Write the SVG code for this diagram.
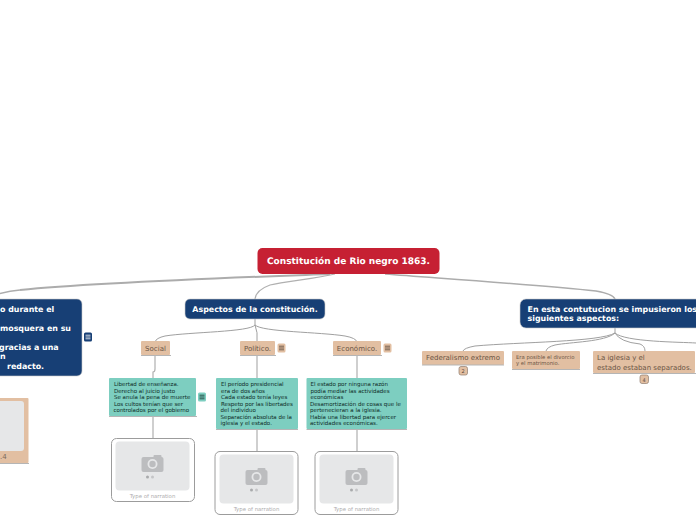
<svg xmlns="http://www.w3.org/2000/svg" width="696" height="520" viewBox="0 0 696 520">
<style>
text{font-family:"DejaVu Sans",sans-serif;text-rendering:geometricPrecision}
.blue{fill:#173f75;stroke:#c9c9c9;stroke-width:.6}
.wt{fill:#fff;font-weight:700;font-size:7.9px}
.tan{fill:#e2bfa2}
.tt{fill:#6b5545;font-size:7px}
.teal{fill:#7dcec0}
.bt{fill:#0e2a25;font-size:5.5px}
.ul{stroke:#b5b5b5;stroke-width:1;fill:none}
.c1{fill:none;stroke:#acacac;stroke-width:2}
.c1b{fill:none;stroke:#acacac;stroke-width:1.500}
.c2{fill:none;stroke:#a0a0a0;stroke-width:1}
.c3{fill:none;stroke:#b0b0b0;stroke-width:1.200}
.card{fill:#fff;stroke:#9c9c9c;stroke-width:1}
.ph{fill:#e6e7e8}
.cam{fill:#bcbdbf}
.cap{fill:#adadad;font-size:5.4px;text-anchor:middle}
.badge{fill:#e2bfa2;stroke:#8f7d6e;stroke-width:.7}
</style>
<defs>
<g id="camera"><rect x="-11" y="-7" width="22" height="15" rx="2" class="cam"/><rect x="1" y="-9" width="8" height="3" rx="1" class="cam"/><circle r="5" fill="#e6e7e8"/><circle r="3.200" class="cam"/><circle cx="-5" cy="13" r="1.500" fill="#a9aaac"/><circle cx="0" cy="13" r="1.500" fill="#c4c5c7"/></g>
<g id="menu"><rect x="-4" y="-4.500" width="8" height="9" rx="1.500" stroke="none"/><path d="M-2.500-1.800H2.500M-2.500 0H2.500M-2.500 1.800H2.500" fill="none" stroke-width=".8"/></g>
</defs>
<g id="connectors">
<path class="c1" d="M330 274C250 277 100 282 20 290"/>
<path class="c1b" d="M20 290Q8 291-5 295"/>
<path class="c1b" d="M385 274C450 279 540 285 596 291Q613 294 615 299"/>
<path class="c3" d="M335 274C315 279 285 281 270 285Q256 290 255 299"/>
<path class="c2" d="M255 319V325M255 325C250 332 190 332 165 336Q156 338 155 342M255 325Q258 332 257 342M255 325C262 332 320 332 345 336Q356 338 357 342"/>
<path class="c3" d="M155 356V369Q155 372 153 372V378M153 417V439M257 356V378M257 429V452M357 356V378M357 429V452"/>
<path class="c2" d="M615 328V333M615 333C600 342 520 342 475 346Q464 348 463 351M615 333C605 342 570 342 555 345Q547 347 546 351M615 333Q620 342 640 344Q645 346 645 351M615 333C625 342 680 342 696 343"/>
</g>
<g id="root"><rect x="257.500" y="248" width="182" height="26" rx="5" fill="#c62033"/><text x="348.500" y="264" text-anchor="middle" fill="#fff" font-weight="700" font-size="9px">Constitución de Rio negro 1863.</text></g>
<g id="left-topic"><rect x="-20" y="299" width="102" height="77" rx="5" class="blue"/><text class="wt"><tspan x="0" y="312">o durante el</tspan><tspan x="0" y="331">mosquera en su</tspan><tspan x="-1" y="349.500">gracias a una</tspan><tspan x="0" y="358.500">n</tspan><tspan x="7" y="368.500">redacto.</tspan></text><use href="#menu" x="88" y="337" fill="#173f75" stroke="#fff"/></g>
<g id="left-card"><rect x="-20" y="398" width="48.500" height="65" rx="1" class="tan"/><rect x="-20" y="401" width="44" height="50" rx="3" fill="#e6e7e8"/><path class="ul" d="M0 463.500H29"/><text x="0" y="459" font-size="7px" fill="#7a6a5c">.4</text></g>
<g id="aspectos"><rect x="185" y="299" width="140" height="20" rx="5" class="blue"/><text x="255" y="312" class="wt" text-anchor="middle">Aspectos de la constitución.</text></g>
<g id="social"><rect x="141" y="341" width="29" height="14" rx="1" class="tan"/><path class="ul" d="M141 355.500H171"/><text x="155.500" y="351" class="tt" text-anchor="middle">Social</text></g>
<g id="politico"><rect x="240" y="341" width="35" height="14" rx="1" class="tan"/><path class="ul" d="M240 355.500H276"/><text x="257.500" y="351" class="tt" text-anchor="middle">Político.</text><use href="#menu" x="281.500" y="348" fill="#e2bfa2" stroke="#5a4a3e"/></g>
<g id="economico"><rect x="333" y="341" width="48" height="14" rx="1" class="tan"/><path class="ul" d="M333 355.500H382"/><text x="357" y="351" class="tt" text-anchor="middle">Económico.</text><use href="#menu" x="387.500" y="348" fill="#e2bfa2" stroke="#5a4a3e"/></g>
<g id="social-text"><rect x="109" y="378" width="87" height="38" rx="1" class="teal"/><path class="ul" d="M109 416.500H197"/><text class="bt"><tspan x="114" y="386">Libertad de enseñanza.</tspan><tspan x="114" y="392.500">Derecho al juicio justo</tspan><tspan x="114" y="399">Se anula la pena de muerte</tspan><tspan x="114" y="405.500">Los cultos tenían que ser</tspan><tspan x="113.500" y="412">controlados por el gobierno</tspan></text><use href="#menu" x="202" y="397" fill="#7dcec0" stroke="#17352f"/></g>
<g id="politico-text"><rect x="216" y="378" width="82" height="51" rx="1" class="teal"/><path class="ul" d="M216 429.500H298"/><text class="bt"><tspan x="221" y="386">El período presidencial</tspan><tspan x="221" y="392.500">era de dos años</tspan><tspan x="221" y="399">Cada estado tenía leyes</tspan><tspan x="221" y="405.500">Respeto por las libertades</tspan><tspan x="220.500" y="412">del individuo</tspan><tspan x="220.500" y="418.500">Separación absoluta de la</tspan><tspan x="220.500" y="425">iglesia y el estado.</tspan></text></g>
<g id="economico-text"><rect x="306.500" y="378" width="100.500" height="51" rx="1" class="teal"/><path class="ul" d="M306.500 429.500H407"/><text class="bt"><tspan x="310.500" y="386">El estado por ninguna razón</tspan><tspan x="310.500" y="392.500">podía mediar las actividades</tspan><tspan x="310.500" y="399">económicas</tspan><tspan x="310" y="405.500">Desamortización de cosas que le</tspan><tspan x="310" y="412">pertenecieran a la iglesia.</tspan><tspan x="310" y="418.500">Había una libertad para ejercer</tspan><tspan x="310" y="425">actividades económicas.</tspan></text></g>
<g id="card-social"><rect x="111.500" y="438.500" width="83" height="63" rx="5" class="card"/><rect x="115.500" y="441.500" width="74" height="49" rx="4" class="ph"/><use href="#camera" x="152.500" y="464"/><text x="152.500" y="498" class="cap">Type of narration</text></g>
<g id="card-politico"><rect x="215" y="451.500" width="83" height="63" rx="5" class="card"/><rect x="219.500" y="454.500" width="74" height="49" rx="4" class="ph"/><use href="#camera" x="256.500" y="477"/><text x="256.500" y="511" class="cap">Type of narration</text></g>
<g id="card-economico"><rect x="315" y="451.500" width="83" height="63" rx="5" class="card"/><rect x="319.500" y="454.500" width="74" height="49" rx="4" class="ph"/><use href="#camera" x="356.500" y="477"/><text x="356.500" y="511" class="cap">Type of narration</text></g>
<g id="contitucion"><rect x="520" y="299" width="190" height="29" rx="6" class="blue"/><text class="wt"><tspan x="527.500" y="312">En esta contutucion se impusieron los</tspan><tspan x="527.500" y="321">siguientes aspectos:</tspan></text></g>
<g id="federalismo"><rect x="422" y="351" width="82" height="14" rx="1" class="tan"/><path class="ul" d="M422 365H504"/><text x="426" y="360" class="tt">Federalismo extremo</text><rect x="459" y="366.500" width="8.500" height="8.500" rx="2" class="badge"/><text x="463.200" y="373" font-size="5px" text-anchor="middle" fill="#5a4a3e">2</text></g>
<g id="divorcio"><rect x="512" y="351" width="68" height="18" rx="1" class="tan"/><path class="ul" d="M512 369.500H580"/><text font-size="5.300px" fill="#6b5545"><tspan x="516" y="359">Era posible el divorcio</tspan><tspan x="516" y="365">y el matrimonio.</tspan></text></g>
<g id="iglesia"><rect x="593" y="351" width="102" height="22" rx="1" class="tan"/><path class="ul" d="M593 373.500H696"/><text class="tt"><tspan x="597" y="360">La iglesia y el</tspan><tspan x="597" y="369.500">estado estaban separados.</tspan></text><rect x="640" y="375" width="8.500" height="8.500" rx="2" class="badge"/><text x="644.200" y="381.500" font-size="5px" text-anchor="middle" fill="#5a4a3e">4</text></g>
</svg>
